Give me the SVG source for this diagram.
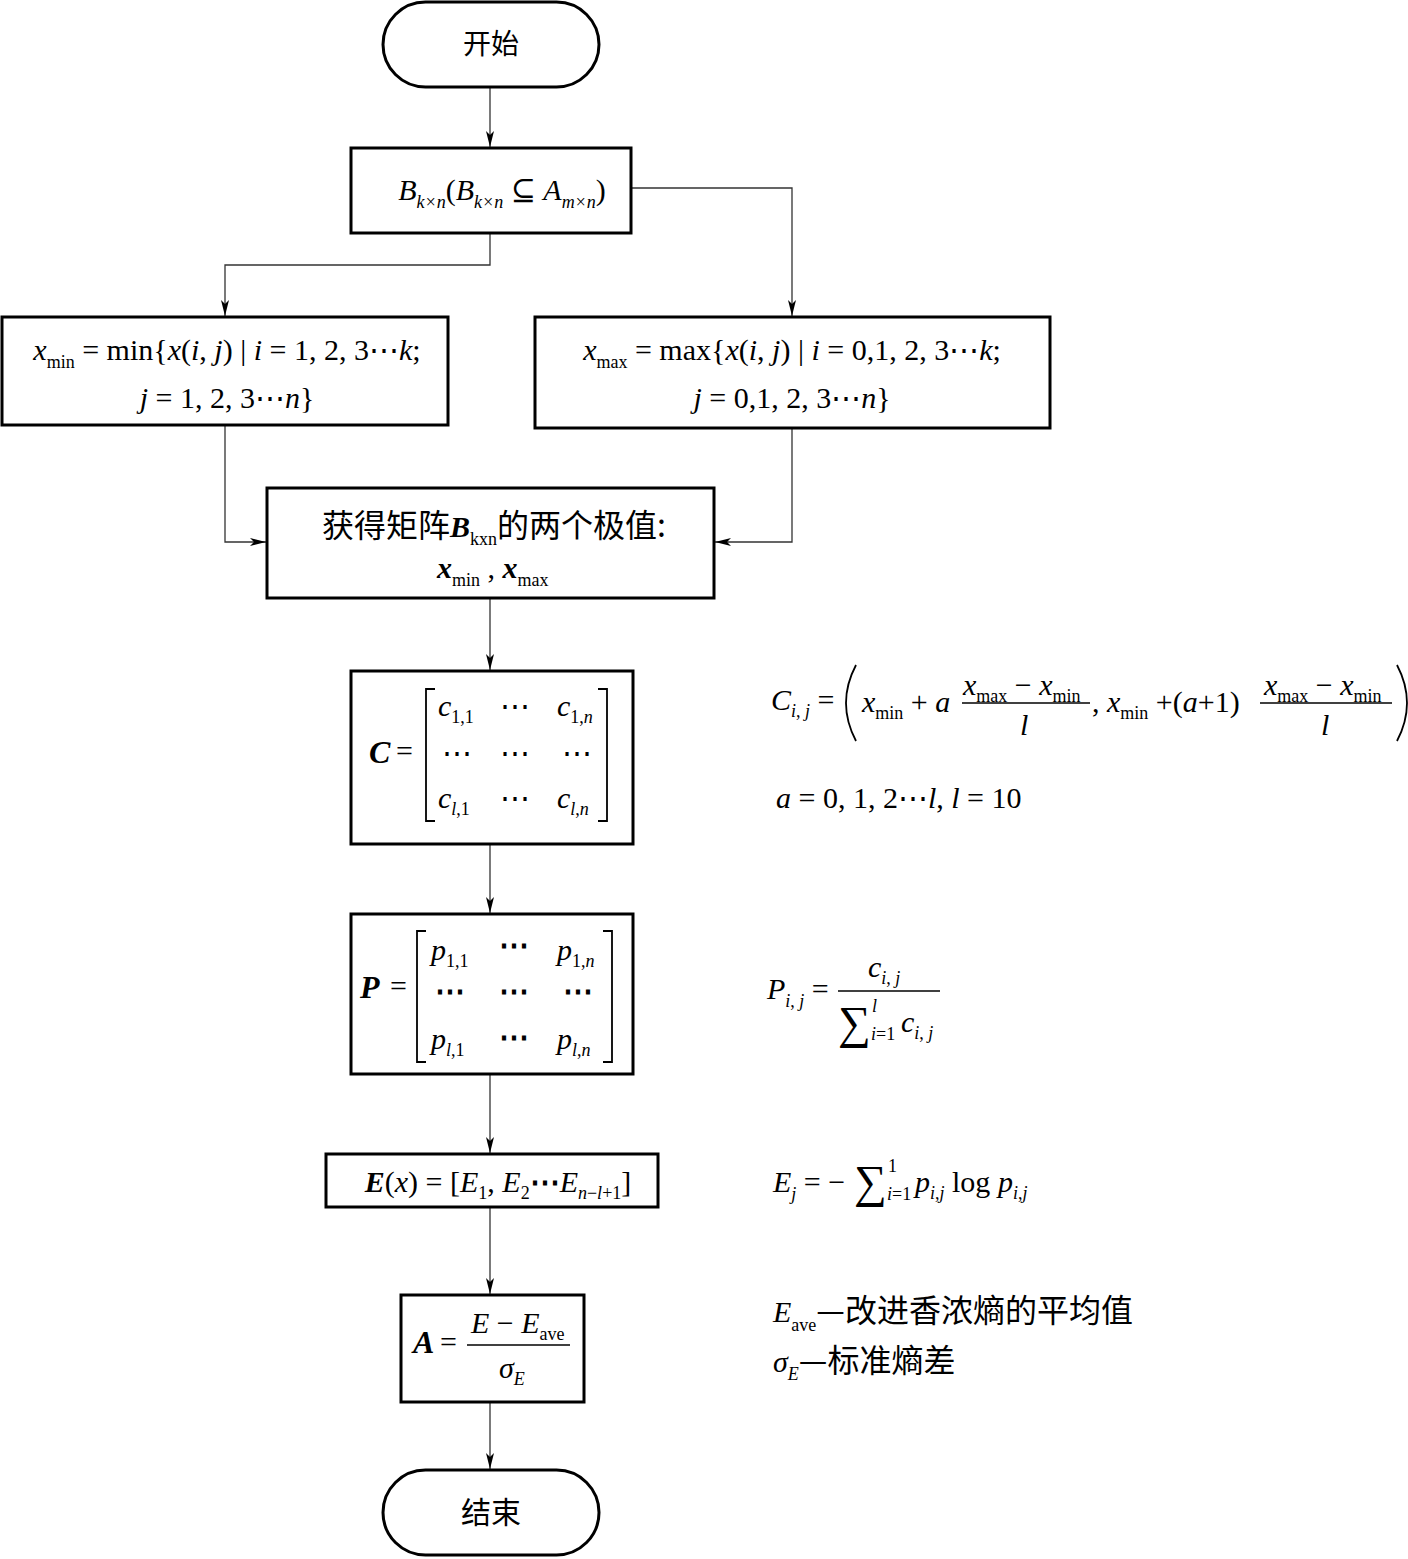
<svg xmlns="http://www.w3.org/2000/svg" width="1408" height="1559" viewBox="0 0 1408 1559">
<style>
.bg{fill:#fff}
.box{fill:#fff;stroke:#000;stroke-width:3}
.ln{fill:none;stroke:#333;stroke-width:1.3}
.br{fill:none;stroke:#000;stroke-width:1.8}
.m{font-family:"Liberation Serif","DejaVu Serif",serif;font-size:30px;fill:#000}
.i{font-style:italic}
.b{font-weight:bold;font-style:italic}
.s{font-size:18px}
.cn{font-family:"Noto Sans CJK SC","Noto Sans CJK TC",sans-serif;font-size:31px;fill:#000}
.mid{text-anchor:middle}
</style>
<defs>
<marker id="ah" viewBox="0 0 16 8" refX="16" refY="4" markerWidth="16" markerHeight="8" orient="auto" markerUnits="userSpaceOnUse">
<path d="M0,0 L16,4 L0,8 L4,4 z" fill="#000"/>
</marker>
</defs>
<rect class="bg" width="1408" height="1559"/>

<g id="connectors">
<path class="ln" d="M490,87 V147" marker-end="url(#ah)"/>
<path class="ln" d="M490,233 V265 H225 V316" marker-end="url(#ah)"/>
<path class="ln" d="M631,188 H792 V316" marker-end="url(#ah)"/>
<path class="ln" d="M225,425 V542 H266" marker-end="url(#ah)"/>
<path class="ln" d="M792,428 V542 H715" marker-end="url(#ah)"/>
<path class="ln" d="M490,598 V670" marker-end="url(#ah)"/>
<path class="ln" d="M490,844 V913" marker-end="url(#ah)"/>
<path class="ln" d="M490,1074 V1153" marker-end="url(#ah)"/>
<path class="ln" d="M490,1207 V1294" marker-end="url(#ah)"/>
<path class="ln" d="M490,1402 V1469" marker-end="url(#ah)"/>
</g>

<g id="start">
<rect class="box" x="383" y="2" width="216" height="85" rx="42.5" ry="42.5" stroke-width="2.5"/>
<text class="cn mid" x="491" y="54" style="font-size:28px">开始</text>
</g>

<g id="subset">
<rect class="box" x="351" y="148" width="280" height="85"/>
<text class="m mid" x="502" y="200"><tspan class="i">B</tspan><tspan class="s i" dy="8">k×n</tspan><tspan dy="-8">(</tspan><tspan class="i">B</tspan><tspan class="s i" dy="8">k×n</tspan><tspan dy="-8"> ⊆ </tspan><tspan class="i">A</tspan><tspan class="s i" dy="8">m×n</tspan><tspan dy="-8">)</tspan></text>
</g>

<g id="min">
<rect class="box" x="2" y="317" width="446" height="108"/>
<text class="m mid" x="227" y="360"><tspan class="i">x</tspan><tspan class="s" dy="8">min</tspan><tspan dy="-8"> = min{</tspan><tspan class="i">x</tspan><tspan>(</tspan><tspan class="i">i</tspan><tspan>, </tspan><tspan class="i">j</tspan><tspan>) | </tspan><tspan class="i">i</tspan><tspan> = 1, 2, 3⋯</tspan><tspan class="i">k</tspan><tspan>;</tspan></text>
<text class="m mid" x="227" y="408"><tspan class="i">j</tspan><tspan> = 1, 2, 3⋯</tspan><tspan class="i">n</tspan><tspan>}</tspan></text>
</g>

<g id="max">
<rect class="box" x="535" y="317" width="515" height="111"/>
<text class="m mid" x="792" y="360"><tspan class="i">x</tspan><tspan class="s" dy="8">max</tspan><tspan dy="-8"> = max{</tspan><tspan class="i">x</tspan><tspan>(</tspan><tspan class="i">i</tspan><tspan>, </tspan><tspan class="i">j</tspan><tspan>) | </tspan><tspan class="i">i</tspan><tspan> = 0,1, 2, 3⋯</tspan><tspan class="i">k</tspan><tspan>;</tspan></text>
<text class="m mid" x="792" y="408"><tspan class="i">j</tspan><tspan> = 0,1, 2, 3⋯</tspan><tspan class="i">n</tspan><tspan>}</tspan></text>
</g>

<g id="extrema">
<rect class="box" x="267" y="488" width="447" height="110"/>
<text x="322" y="537"><tspan class="cn" style="font-size:32px">获得矩阵</tspan><tspan class="m b">B</tspan><tspan class="m s" dy="8">kxn</tspan><tspan class="cn" dy="-8" style="font-size:32px">的两个极值:</tspan></text>
<text class="m" x="437" y="578"><tspan class="b">x</tspan><tspan class="s" dy="8">min</tspan><tspan dy="-8"> , </tspan><tspan class="b">x</tspan><tspan class="s" dy="8">max</tspan></text>
</g>

<g id="matrixC">
<rect class="box" x="351" y="671" width="282" height="173"/>
<text class="m b" x="369" y="763" style="font-size:32px">C</text>
<text class="m" x="396" y="761">=</text>
<path class="br" d="M435,689 H426 V821 H435"/>
<path class="br" d="M598,689 H607 V821 H598"/>
<text class="m" y="716"><tspan class="i" x="438">c</tspan><tspan class="s" dy="7">1,1</tspan><tspan x="500" dy="-7">⋯</tspan><tspan class="i" x="557">c</tspan><tspan class="s" dy="7">1,</tspan><tspan class="s i">n</tspan></text>
<text class="m" y="763"><tspan x="442">⋯</tspan><tspan x="500">⋯</tspan><tspan x="562">⋯</tspan></text>
<text class="m" y="808"><tspan class="i" x="438">c</tspan><tspan class="s i" dy="7">l</tspan><tspan class="s">,1</tspan><tspan x="500" dy="-7">⋯</tspan><tspan class="i" x="557">c</tspan><tspan class="s i" dy="7">l</tspan><tspan class="s">,</tspan><tspan class="s i">n</tspan></text>
</g>

<g id="matrixP">
<rect class="box" x="351" y="914" width="282" height="160"/>
<text class="m b" x="360" y="998" style="font-size:32px">P</text>
<text class="m" x="390" y="996">=</text>
<path class="br" d="M426,931 H417 V1062 H426"/>
<path class="br" d="M603,931 H612 V1062 H603"/>
<text class="m" y="960"><tspan class="i" x="431">p</tspan><tspan class="s" dy="7">1,1</tspan><tspan x="499" dy="-12" font-weight="bold">⋯</tspan><tspan class="i" x="557" dy="5">p</tspan><tspan class="s" dy="7">1,</tspan><tspan class="s i">n</tspan></text>
<text class="m" y="1001" font-weight="bold"><tspan x="435">⋯</tspan><tspan x="499">⋯</tspan><tspan x="563">⋯</tspan></text>
<text class="m" y="1049"><tspan class="i" x="431">p</tspan><tspan class="s i" dy="7">l</tspan><tspan class="s">,1</tspan><tspan x="499" dy="-9" font-weight="bold">⋯</tspan><tspan class="i" x="557" dy="2">p</tspan><tspan class="s i" dy="7">l</tspan><tspan class="s">,</tspan><tspan class="s i">n</tspan></text>
</g>

<g id="entropy">
<rect class="box" x="326" y="1154" width="332" height="53"/>
<text class="m mid" x="498" y="1192"><tspan class="b">E</tspan><tspan>(</tspan><tspan class="i">x</tspan><tspan>) = [</tspan><tspan class="i">E</tspan><tspan class="s" dy="7">1</tspan><tspan dy="-7">, </tspan><tspan class="i">E</tspan><tspan class="s" dy="7">2</tspan><tspan dy="-7" font-weight="bold">⋯</tspan><tspan class="i">E</tspan><tspan class="s i" dy="7">n</tspan><tspan class="s">−</tspan><tspan class="s i">l</tspan><tspan class="s">+1</tspan><tspan dy="-7">]</tspan></text>
</g>

<g id="anomaly">
<rect class="box" x="401" y="1295" width="183" height="107"/>
<text class="m b" x="413" y="1353" style="font-size:32px">A</text>
<text class="m" x="440" y="1352">=</text>
<line x1="467" y1="1345" x2="570" y2="1345" stroke="#000" stroke-width="1.5"/>
<text class="m" x="471" y="1333"><tspan class="i">E</tspan><tspan> − </tspan><tspan class="i">E</tspan><tspan class="s" dy="7">ave</tspan></text>
<text class="m" x="499" y="1378"><tspan class="i">σ</tspan><tspan class="s i" dy="7">E</tspan></text>
</g>

<g id="end">
<rect class="box" x="383" y="1470" width="216" height="85" rx="42.5" ry="42.5" stroke-width="2.5"/>
<text class="cn mid" x="491" y="1523" style="font-size:30px">结束</text>
</g>

<g id="formulas">
<text class="m" x="771" y="710"><tspan class="i">C</tspan><tspan class="s i" dy="7">i</tspan><tspan class="s">, </tspan><tspan class="s i">j</tspan><tspan dy="-7"> =</tspan></text>
<path class="br" d="M856,665 Q836,703 856,741" stroke-width="2.2"/>
<text class="m" x="862" y="712"><tspan class="i">x</tspan><tspan class="s" dy="7">min</tspan><tspan dy="-7"> + </tspan><tspan class="i">a</tspan></text>
<text class="m" x="963" y="695"><tspan class="i">x</tspan><tspan class="s" dy="7">max</tspan><tspan dy="-7"> − </tspan><tspan class="i">x</tspan><tspan class="s" dy="7">min</tspan></text>
<line x1="962" y1="703" x2="1090" y2="703" stroke="#000" stroke-width="1.3"/>
<text class="m i" x="1020" y="735">l</text>
<text class="m" x="1092" y="712"><tspan>, </tspan><tspan class="i">x</tspan><tspan class="s" dy="7">min</tspan><tspan dy="-7"> +(</tspan><tspan class="i">a</tspan><tspan>+1)</tspan></text>
<text class="m" x="1264" y="695"><tspan class="i">x</tspan><tspan class="s" dy="7">max</tspan><tspan dy="-7"> − </tspan><tspan class="i">x</tspan><tspan class="s" dy="7">min</tspan></text>
<line x1="1260" y1="703" x2="1392" y2="703" stroke="#000" stroke-width="1.3"/>
<text class="m i" x="1321" y="735">l</text>
<path class="br" d="M1397,665 Q1417,703 1397,741" stroke-width="2.2"/>

<text class="m" x="776" y="808"><tspan class="i">a</tspan><tspan> = 0, 1, 2⋯</tspan><tspan class="i">l</tspan><tspan>, </tspan><tspan class="i">l</tspan><tspan> = 10</tspan></text>

<text class="m" x="767" y="999"><tspan class="i">P</tspan><tspan class="s i" dy="8">i</tspan><tspan class="s">, </tspan><tspan class="s i">j</tspan><tspan dy="-8"> =</tspan></text>
<text class="m" x="868" y="977"><tspan class="i">c</tspan><tspan class="s i" dy="7">i</tspan><tspan class="s">, </tspan><tspan class="s i">j</tspan></text>
<line x1="838" y1="991" x2="940" y2="991" stroke="#000" stroke-width="1.3"/>
<text class="m" x="838" y="1038"><tspan style="font-size:46px">∑</tspan><tspan class="s i" x="872" dy="-26">l</tspan><tspan class="s" x="871" dy="28"><tspan class="i">i</tspan>=1</tspan><tspan class="i" x="901" dy="-8">c</tspan><tspan class="s i" dy="7">i</tspan><tspan class="s">, </tspan><tspan class="s i">j</tspan></text>

<text class="m" x="773" y="1192"><tspan class="i">E</tspan><tspan class="s i" dy="8">j</tspan><tspan dy="-8"> = −</tspan><tspan x="854" dy="5" style="font-size:46px">∑</tspan><tspan class="s" x="888" dy="-25">1</tspan><tspan class="s" x="887" dy="28"><tspan class="i">i</tspan>=1</tspan><tspan class="i" x="915" dy="-8">p</tspan><tspan class="s i" dy="7">i</tspan><tspan class="s">,</tspan><tspan class="s i">j</tspan><tspan dy="-7"> log </tspan><tspan class="i">p</tspan><tspan class="s i" dy="7">i</tspan><tspan class="s">,</tspan><tspan class="s i">j</tspan></text>

<text x="773" y="1322"><tspan class="m i">E</tspan><tspan class="m s" dy="9">ave</tspan><tspan class="cn" dy="-9" style="font-size:32px">—改进香浓熵的平均值</tspan></text>
<text x="773" y="1372"><tspan class="m i">σ</tspan><tspan class="m s i" dy="8">E</tspan><tspan class="cn" dy="-8" style="font-size:32px">—标准熵差</tspan></text>
</g>
</svg>
